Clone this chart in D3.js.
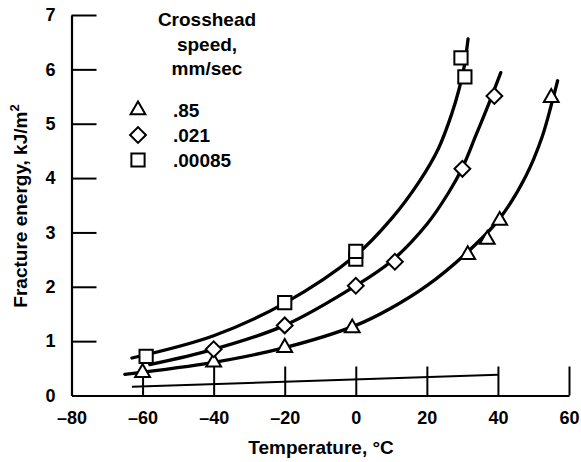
<!DOCTYPE html>
<html lang="en">
<head>
    <meta charset="UTF-8">
    <title>Fracture energy vs temperature</title>
    <script src="https://d3js.org/d3.v7.min.js"></script>
    <style>
        body { margin: 0; background: #fff; }
        svg { font-family: "Liberation Sans", Arial, sans-serif; font-weight: bold; }
    </style>
</head>
<body>
    <div id="chart-container"></div>

    <script>
        // Axis ticks
        const tempTicks = [-80, -60, -40, -20, 0, 20, 40, 60];
        const energyTicks = [0, 1, 2, 3, 4, 5, 6, 7];

        // Legend
        const legendTitle = ["Crosshead", "speed,", "mm/sec"];
        const speeds = [".85", ".021", ".00085"];

        // Measured points [temperature, energy]
        const triPts = [[-60, 0.42], [-40, 0.61], [-20, 0.88], [-1, 1.24], [31.5, 2.59], [37, 2.87], [40.5, 3.22], [55, 5.48]];
        const diaPts = [[-40, 0.85], [-20, 1.29], [0, 2.02], [11, 2.46], [30, 4.17], [39, 5.51]];
        const sqPts = [[-59, 0.72], [-20, 1.71], [0, 2.51], [0, 2.65], [29.6, 6.21], [30.7, 5.86]];

        // Faired curves
        const triFit = [[-65, 0.39], [-40, 0.61], [-20, 0.88], [0, 1.29], [10, 1.61], [20, 2.02], [30.8, 2.6], [40.3, 3.24], [47.8, 4.03], [52.5, 4.77], [55.4, 5.44], [56.8, 5.79]];
        const diaFit = [[-58, 0.57], [-40, 0.85], [-20, 1.29], [0, 2.02], [10, 2.47], [20, 3.15], [26.1, 3.73], [30, 4.19], [33.7, 4.77], [37.5, 5.38], [40.8, 5.94]];
        const sqFit = [[-63, 0.69], [-40, 1.1], [-20, 1.7], [0, 2.58], [10, 3.25], [18, 3.95], [23.3, 4.55], [27.1, 5.2], [29, 5.62], [30.5, 6.05], [31.6, 6.56]];

        // thin line near the bottom of the plot
        const baseLine = [[-63, 0.16], [40, 0.38]];

        const width = 581, height = 462;

        const svg = d3.select("#chart-container")
            .append("svg")
            .attr("width", width)
            .attr("height", height);

        const x = d3.scaleLinear().domain([-80, 60]).range([71.5, 569]);
        const y = d3.scaleLinear().domain([0, 7]).range([395.5, 15]);

        const fmt = d => d < 0 ? "\u2013" + (-d) : String(d);

        // x axis, ticks pointing into the plot
        const xAxis = svg.append("g")
            .attr("transform", `translate(0, ${y(0)})`)
            .call(d3.axisBottom(x).tickValues(tempTicks).tickSizeInner(-29).tickSizeOuter(0).tickPadding(16).tickFormat(fmt));

        const yAxis = svg.append("g")
            .attr("transform", `translate(${x(-80)}, 0)`)
            .call(d3.axisLeft(y).tickValues(energyTicks).tickSizeInner(-25).tickSizeOuter(0).tickPadding(16).tickFormat(fmt));

        [xAxis, yAxis].forEach(g => {
            g.select(".domain").attr("stroke", "#000").attr("stroke-width", 2.2);
            g.selectAll(".tick line").attr("stroke", "#000").attr("stroke-width", 2);
            g.selectAll(".tick text").attr("fill", "#000").style("font-size", "18px").style("font-family", "Liberation Sans, Arial, sans-serif").style("font-weight", "bold");
        });
        xAxis.selectAll(".tick text").attr("dy", "0.72em");
        yAxis.selectAll(".tick").filter(d => d === 0).select("line").remove();

        // axis titles
        svg.append("text")
            .attr("x", 321)
            .attr("y", 454)
            .attr("text-anchor", "middle")
            .style("font-size", "19px")
            .text("Temperature, \u00B0C");

        const yTitle = svg.append("text")
            .attr("transform", "translate(27, 206) rotate(-90)")
            .attr("text-anchor", "middle")
            .style("font-size", "19px");
        yTitle.append("tspan").text("Fracture energy, kJ/m");
        yTitle.append("tspan").attr("dy", -8).style("font-size", "13px").text("2");

        // bottom reference line
        const line = d3.line().x(d => x(d[0])).y(d => y(d[1]));
        svg.append("path")
            .attr("d", line(baseLine))
            .attr("fill", "none")
            .attr("stroke", "#000")
            .attr("stroke-width", 2);

        // curves
        const curve = d3.line().x(d => x(d[0])).y(d => y(d[1])).curve(d3.curveCatmullRom.alpha(0.5));
        [triFit, diaFit, sqFit].forEach(fit => {
            svg.append("path")
                .attr("d", curve(fit))
                .attr("fill", "none")
                .attr("stroke", "#000")
                .attr("stroke-width", 3.3)
                .attr("stroke-linecap", "round");
        });

        // markers
        const shapes = [
            { pts: triPts, sym: d3.symbol().type(d3.symbolTriangle).size(95), rot: 0 },
            { pts: diaPts, sym: d3.symbol().type(d3.symbolSquare).size(125), rot: 45 },
            { pts: sqPts, sym: d3.symbol().type(d3.symbolSquare).size(175), rot: 0 }
        ];

        shapes.forEach(s => {
            svg.append("g").selectAll("path")
                .data(s.pts)
                .enter().append("path")
                .attr("d", s.sym())
                .attr("transform", d => `translate(${x(d[0])}, ${y(d[1])}) rotate(${s.rot})`)
                .attr("fill", "#fff")
                .attr("stroke", "#000")
                .attr("stroke-width", 2);
        });

        // legend
        svg.selectAll(".ltitle")
            .data(legendTitle)
            .enter().append("text")
            .attr("class", "ltitle")
            .attr("x", 207)
            .attr("y", (d, i) => 26 + i * 24.5)
            .attr("text-anchor", "middle")
            .style("font-size", "19px")
            .text(d => d);

        speeds.forEach((label, i) => {
            const ly = 110 + i * 25;
            svg.append("path")
                .attr("d", shapes[i].sym())
                .attr("transform", `translate(138, ${ly}) rotate(${shapes[i].rot})`)
                .attr("fill", "#fff")
                .attr("stroke", "#000")
                .attr("stroke-width", 2);
            svg.append("text")
                .attr("x", 173)
                .attr("y", ly + 7)
                .style("font-size", "19px")
                .text(label);
        });
    </script>
</body>
</html>
